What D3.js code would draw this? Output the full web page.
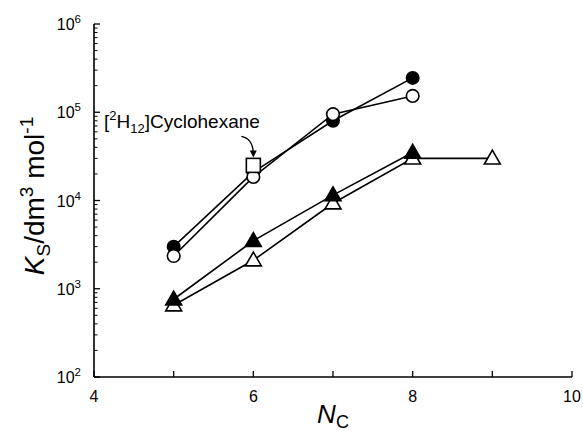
<!DOCTYPE html>
<html>
<head>
<meta charset="utf-8">
<script src="https://cdn.jsdelivr.net/npm/d3@7"></script>
<style>
  body { margin: 0; background: #fff; }
  svg { display: block; font-family: "Liberation Sans", Arial, sans-serif; }
</style>
</head>
<body>
<div id="chart"></div>
<script>
// data
const nc = [5, 6, 7, 8];
const filledCircle = [3000, 21000, 80000, 245000];
const openCircle = [2350, 18500, 95000, 153000];
const filledTri = [760, 3500, 11500, 35000];
const openTriX = [5, 6, 7, 8, 9];
const openTri = [650, 2100, 9300, 30000, 30000];
const squareX = [6];
const squareY = [25000];
const xTicks = [4, 5, 6, 7, 8, 9, 10];
const xLabels = [4, 6, 8, 10];
const yDecades = [2, 3, 4, 5, 6];

const width = 583, height = 433;
const margin = { top: 24, right: 11, bottom: 56, left: 94 };

const svg = d3.select("#chart").append("svg")
  .attr("width", width)
  .attr("height", height);

const x = d3.scaleLinear().domain([4, 10]).range([margin.left, width - margin.right]);
const y = d3.scaleLog().domain([100, 1e6]).range([height - margin.bottom, margin.top]);

// axes lines
const axes = svg.append("g").attr("stroke", "#000").attr("stroke-width", 1.6);
axes.append("line")
  .attr("x1", x(4)).attr("x2", x(10))
  .attr("y1", y(100)).attr("y2", y(100));
axes.append("line")
  .attr("x1", x(4)).attr("x2", x(4))
  .attr("y1", y(100)).attr("y2", y(1e6));

// x ticks (inside)
axes.selectAll(".xt").data(xTicks).enter().append("line")
  .attr("x1", d => x(d)).attr("x2", d => x(d))
  .attr("y1", y(100)).attr("y2", y(100) - 6)
  .attr("stroke-width", 1.3);

svg.append("g").selectAll("text").data(xLabels).enter().append("text")
  .attr("x", d => x(d))
  .attr("y", y(100) + 25)
  .attr("text-anchor", "middle")
  .attr("font-size", 16)
  .text(d => d);

// y ticks, major and minor (inside)
const minor = [];
yDecades.slice(0, -1).forEach(e => {
  for (let m = 2; m <= 9; m++) minor.push(m * Math.pow(10, e));
});
axes.selectAll(".ymaj").data(yDecades).enter().append("line")
  .attr("x1", x(4)).attr("x2", x(4) + 6)
  .attr("y1", d => y(Math.pow(10, d))).attr("y2", d => y(Math.pow(10, d)))
  .attr("stroke-width", 1.3);
axes.selectAll(".ymin").data(minor).enter().append("line")
  .attr("x1", x(4)).attr("x2", x(4) + 3.5)
  .attr("y1", d => y(d)).attr("y2", d => y(d))
  .attr("stroke-width", 1);

const yl = svg.append("g").selectAll("text").data(yDecades).enter().append("text")
  .attr("x", x(4) - 13)
  .attr("y", d => y(Math.pow(10, d)) + 6)
  .attr("text-anchor", "end")
  .attr("font-size", 16);
yl.append("tspan").text("10");
yl.append("tspan").attr("font-size", 11.5).attr("dy", -7).text(d => d);

// axis titles
const yt = svg.append("text")
  .attr("transform", "translate(44,196) rotate(-90)")
  .attr("text-anchor", "middle")
  .attr("font-size", 28);
yt.append("tspan").attr("font-style", "italic").text("K");
yt.append("tspan").attr("font-size", 19).attr("dy", 6).text("S");
yt.append("tspan").attr("dy", -6).text("/dm");
yt.append("tspan").attr("font-size", 19).attr("dy", -11).text("3");
yt.append("tspan").attr("dy", 11).text(" mol");
yt.append("tspan").attr("font-size", 19).attr("dy", -11).text("-1");

const xt = svg.append("text")
  .attr("x", x(7))
  .attr("y", height - 10)
  .attr("text-anchor", "middle")
  .attr("font-size", 26);
xt.append("tspan").attr("font-style", "italic").text("N");
xt.append("tspan").attr("font-size", 18).attr("dy", 5).text("C");

// series lines
const line = d3.line().x(d => x(d[0])).y(d => y(d[1]));
const plot = svg.append("g");
function drawLine(xs, ys) {
  plot.append("path")
    .datum(xs.map((v, i) => [v, ys[i]]))
    .attr("fill", "none")
    .attr("stroke", "#000")
    .attr("stroke-width", 1.6)
    .attr("d", line);
}
drawLine(nc, filledCircle);
drawLine(nc, openCircle);
drawLine(nc, filledTri);
drawLine(openTriX, openTri);

const tri = d3.symbol().type(d3.symbolTriangle).size(110);

function circles(xs, ys, fill) {
  plot.append("g").selectAll("circle").data(xs).enter().append("circle")
    .attr("cx", d => x(d))
    .attr("cy", (d, i) => y(ys[i]))
    .attr("r", fill ? 7 : 6.3)
    .attr("fill", fill ? "#000" : "#fff")
    .attr("stroke", "#000")
    .attr("stroke-width", fill ? 0 : 1.6);
}
function triangles(xs, ys, fill) {
  plot.append("g").selectAll("path").data(xs).enter().append("path")
    .attr("transform", (d, i) => "translate(" + x(d) + "," + (y(ys[i]) + 1) + ")")
    .attr("d", tri)
    .attr("fill", fill ? "#000" : "#fff")
    .attr("stroke", "#000")
    .attr("stroke-width", 1.6);
}
circles(nc, filledCircle, true);
circles(nc, openCircle, false);
triangles(openTriX, openTri, false);
triangles(nc, filledTri, true);

// deuterated cyclohexane square
plot.append("g").selectAll("rect").data(squareX).enter().append("rect")
  .attr("x", d => x(d) - 7)
  .attr("y", (d, i) => y(squareY[i]) - 7)
  .attr("width", 14).attr("height", 14)
  .attr("fill", "#fff")
  .attr("stroke", "#000")
  .attr("stroke-width", 1.6);

// annotation
const ann = svg.append("text")
  .attr("x", x(4) + 10)
  .attr("y", y(1e5) + 16)
  .attr("font-size", 19);
ann.append("tspan").text("[");
ann.append("tspan").attr("font-size", 13).attr("dy", -8).text("2");
ann.append("tspan").attr("dy", 8).text("H");
ann.append("tspan").attr("font-size", 13).attr("dy", 5).text("12");
ann.append("tspan").attr("dy", -5).text("]Cyclohexane");

const ax = x(6), ay = y(squareY[0]) - 9;
svg.append("path")
  .attr("d", `M${ax - 12},${ay - 20} Q${ax - 1},${ay - 18} ${ax},${ay - 4}`)
  .attr("fill", "none")
  .attr("stroke", "#000")
  .attr("stroke-width", 1.3);
svg.append("path")
  .attr("d", `M${ax - 3.5},${ay - 6} L${ax + 3.5},${ay - 6} L${ax},${ay + 1} Z`)
  .attr("fill", "#000");
</script>
</body>
</html>
